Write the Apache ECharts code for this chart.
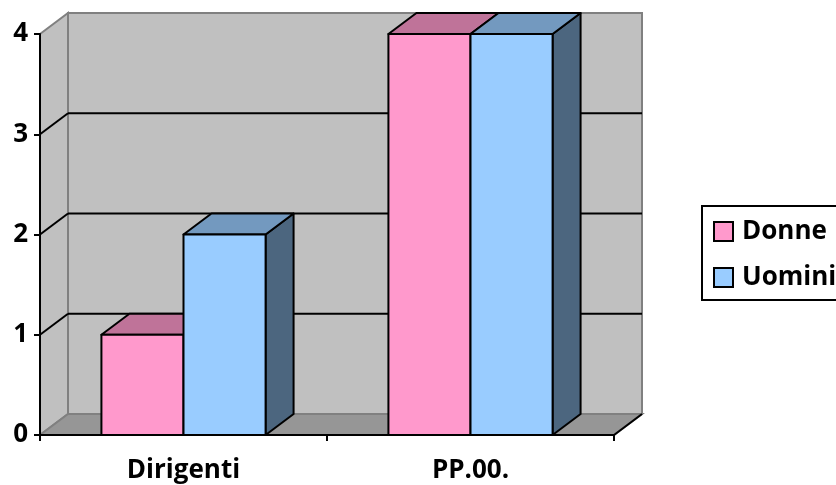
<!DOCTYPE html>
<html>
<head>
<meta charset="utf-8">
<script src="https://cdn.jsdelivr.net/npm/echarts@6/dist/echarts.min.js"></script>
<style>html,body{margin:0;padding:0;background:#fff}#c{width:836px;height:485px}</style>
</head>
<body>
<div id="c"></div>
<script>
const categories = ['Dirigenti', 'PP.00.'];
const donne = [1, 4];
const uomini = [2, 4];
const yTicks = [0, 1, 2, 3, 4];
const seriesNames = ['Donne', 'Uomini'];

const DX = 28, DY = -21;
const FONT = '"Open Sans", "Noto Sans", sans-serif';
const colors = {
  Donne: { front: '#FF99CC', top: '#BF7399', side: '#7F4C66' },
  Uomini: { front: '#99CCFF', top: '#7399BF', side: '#4C667F' }
};

const chart = echarts.init(document.getElementById('c'), null, { renderer: 'canvas' });

function wallsRender(params, api) {
  const cs = params.coordSys;
  const x0 = cs.x, x1 = cs.x + cs.width;
  const yTop = api.coord([0, yTicks[yTicks.length - 1]])[1];
  const yBot = api.coord([0, yTicks[0]])[1];
  const gray = '#808080';
  return {
    type: 'group',
    children: [
      { type: 'polygon', shape: { points: [[x0, yTop], [x0 + DX, yTop + DY], [x0 + DX, yBot + DY], [x0, yBot]] },
        style: { fill: '#C0C0C0', stroke: gray, lineWidth: 2 } },
      { type: 'polygon', shape: { points: [[x0 + DX, yTop + DY], [x1 + DX, yTop + DY], [x1 + DX, yBot + DY], [x0 + DX, yBot + DY]] },
        style: { fill: '#C0C0C0', stroke: gray, lineWidth: 2 } },
      { type: 'polygon', shape: { points: [[x0, yBot], [x1, yBot], [x1 + DX, yBot + DY], [x0 + DX, yBot + DY]] },
        style: { fill: '#969696', stroke: gray, lineWidth: 2 } },
      { type: 'line', shape: { x1: x1, y1: yBot, x2: x1 + DX, y2: yBot + DY },
        style: { stroke: '#000', lineWidth: 2 } }
    ]
  };
}

function gridRender(params, api) {
  const cs = params.coordSys;
  const x0 = cs.x, x1 = cs.x + cs.width;
  const v = api.value(0);
  const y = api.coord([0, v])[1];
  if (v === yTicks[0] || v === yTicks[yTicks.length - 1]) return { type: 'group', children: [] };
  return {
    type: 'group',
    children: [
      { type: 'line', shape: { x1: x0 + DX, y1: y + DY, x2: x1 + DX, y2: y + DY }, style: { stroke: '#000', lineWidth: 2 } },
      { type: 'line', shape: { x1: x0, y1: y, x2: x0 + DX, y2: y + DY }, style: { stroke: '#000', lineWidth: 2 } }
    ]
  };
}

function barRender(which) {
  return function (params, api) {
    const idx = api.value(0);
    const val = api.value(1);
    const top = api.coord([idx, val]);
    const base = api.coord([idx, 0]);
    const band = api.size([1, 0])[0];
    const bw = band * 0.286;
    const cx = top[0];
    const xa = which === 'Donne' ? cx - bw : cx;
    const xb = xa + bw;
    const yt = top[1], yb = base[1];
    const c = colors[which];
    const st = { stroke: '#000', lineWidth: 2, lineJoin: 'round' };
    return {
      type: 'group',
      children: [
        { type: 'polygon', shape: { points: [[xb, yt], [xb + DX, yt + DY], [xb + DX, yb + DY], [xb, yb]] },
          style: Object.assign({ fill: c.side }, st) },
        { type: 'polygon', shape: { points: [[xa, yt], [xa + DX, yt + DY], [xb + DX, yt + DY], [xb, yt]] },
          style: Object.assign({ fill: c.top }, st) },
        { type: 'rect', shape: { x: xa, y: yt, width: bw, height: yb - yt },
          style: Object.assign({ fill: c.front }, st) }
      ]
    };
  };
}

chart.setOption({
  animation: false,
  backgroundColor: '#fff',
  grid: { left: 40, right: 222, top: 34, bottom: 50, containLabel: false },
  legend: {
    orient: 'vertical',
    left: 702,
    top: 206,
    icon: 'rect',
    itemWidth: 19,
    itemHeight: 19,
    itemGap: 19,
    padding: [12, 40, 9, 11],
    borderColor: '#000',
    borderWidth: 2,
    textStyle: { fontFamily: FONT, fontWeight: 'bold', fontSize: 26, color: '#000', lineHeight: 27, padding: [0, 0, 0, 4] },
    data: [
      { name: 'Donne', itemStyle: { color: colors.Donne.front, borderColor: '#000', borderWidth: 2 } },
      { name: 'Uomini', itemStyle: { color: colors.Uomini.front, borderColor: '#000', borderWidth: 2 } }
    ]
  },
  xAxis: {
    type: 'category',
    data: categories,
    z: 10,
    axisLine: { show: true, lineStyle: { color: '#000', width: 2 } },
    axisTick: { show: true, length: 6, lineStyle: { color: '#000', width: 2 } },
    axisLabel: { fontFamily: FONT, fontWeight: 'bold', fontSize: 26, color: '#000', margin: 23 },
    splitLine: { show: false }
  },
  yAxis: {
    type: 'value',
    min: 0, max: 4, interval: 1,
    z: 10,
    axisLine: { show: true, lineStyle: { color: '#000', width: 2 } },
    axisTick: { show: true, length: 6, lineStyle: { color: '#000', width: 2 } },
    axisLabel: { fontFamily: FONT, fontWeight: 'bold', fontSize: 26, color: '#000', margin: 12 },
    splitLine: { show: false }
  },
  series: [
    { type: 'custom', name: 'walls', silent: true, clip: false, renderItem: wallsRender, data: [[0]], z: 1 },
    { type: 'custom', name: 'gridlines', silent: true, clip: false, renderItem: gridRender, data: yTicks.map(v => [v]), z: 1 },
    { type: 'custom', name: 'Donne', clip: false, renderItem: barRender('Donne'), itemStyle: { color: colors.Donne.front },
      encode: { x: 0, y: 1 }, data: donne.map((v, i) => [i, v]), z: 3 },
    { type: 'custom', name: 'Uomini', clip: false, renderItem: barRender('Uomini'), itemStyle: { color: colors.Uomini.front },
      encode: { x: 0, y: 1 }, data: uomini.map((v, i) => [i, v]), z: 3 }
  ]
});
</script>
</body>
</html>
